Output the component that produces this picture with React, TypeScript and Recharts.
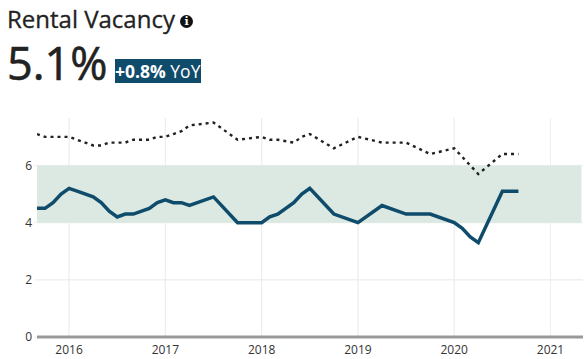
import {
  CartesianGrid,
  ComposedChart,
  Line,
  ReferenceArea,
  XAxis,
  YAxis,
} from "recharts";

// x values are months counted from January 2016
const months = [
  -4, -3, -2, -1, 0, 1, 3, 4, 5, 6, 7, 8, 10, 11, 12, 13, 14, 15, 18, 21, 24, 25, 26, 28, 29, 30,
  33, 36, 39, 42, 45, 48, 49, 50, 51, 54, 56,
];
const vacancy = [
  4.5, 4.5, 4.7, 5.0, 5.2, 5.1, 4.9, 4.7, 4.4, 4.2, 4.3, 4.3, 4.5, 4.7, 4.8, 4.7, 4.7, 4.6, 4.9,
  4.0, 4.0, 4.2, 4.3, 4.7, 5.0, 5.2, 4.3, 4.0, 4.6, 4.3, 4.3, 4.0, 3.8, 3.5, 3.3, 5.1, 5.1,
];
const national = [
  7.1, 7.0, 7.0, 7.0, 7.0, 6.9, 6.7, 6.7, 6.8, 6.8, 6.8, 6.9, 6.9, 7.0, 7.0, 7.1, 7.2, 7.4, 7.5,
  6.9, 7.0, 6.9, 6.9, 6.8, 7.0, 7.1, 6.6, 7.0, 6.8, 6.8, 6.4, 6.6, 6.3, 6.0, 5.7, 6.4, 6.4,
];
const yearTicks = [0, 12, 24, 36, 48, 60];
const valueTicks = [0, 2, 4, 6];
const gridValues = [2, 4, 6];

const chartData = months.map((month, i) => ({
  month,
  vacancy: vacancy[i],
  national: national[i],
}));

const font = "'Open Sans', sans-serif";

export default function App() {
  return (
    <div
      style={{
        position: "absolute",
        left: 0,
        top: 0,
        width: 584,
        height: 359,
        background: "#fff",
        fontFamily: font,
        overflow: "hidden",
      }}
    >
      <div style={{ position: "absolute", left: 7, top: 2, fontSize: 24, lineHeight: "33px", color: "#222", WebkitTextStroke: "0.3px #222" }}>
        Rental Vacancy
      </div>
      <div
        style={{
          position: "absolute",
          left: 180,
          top: 15,
          width: 13,
          height: 13,
          borderRadius: "50%",
          background: "#111",
          color: "#fff",
          fontSize: 11,
          fontWeight: 700,
          lineHeight: "13px",
          textAlign: "center",
          fontFamily: "'DejaVu Serif', serif",
        }}
      >
        i
      </div>
      <div
        style={{
          position: "absolute",
          left: 7,
          top: 32,
          fontSize: 45,
          fontWeight: 500,
          lineHeight: "62px",
          color: "#222",
          WebkitTextStroke: "0.6px #222",
        }}
      >
        5.1%
      </div>
      <div
        style={{
          position: "absolute",
          left: 115,
          top: 59,
          width: 86,
          height: 24,
          background: "#0f4c6b",
          color: "#fff",
          fontSize: 17.5,
          lineHeight: "24px",
          whiteSpace: "nowrap",
          overflow: "hidden",
        }}
      >
        <b>+0.8%</b> YoY
      </div>
      <div style={{ position: "absolute", left: 0, top: 110 }}>
        <ComposedChart
          width={584}
          height={249}
          data={chartData}
          margin={{ top: 8, right: 1, bottom: 0, left: 0 }}
        >
          <CartesianGrid stroke="#eeeeee" strokeWidth={1} horizontalValues={gridValues} verticalValues={yearTicks} />
          <XAxis
            dataKey="month"
            type="number"
            domain={[-4, 64.05]}
            ticks={yearTicks}
            tickFormatter={(m: number) => String(2016 + m / 12)}
            allowDataOverflow
            height={22}
            axisLine={{ stroke: "#999999", strokeWidth: 3 }}
            tickLine={false}
            tickMargin={2}
            tick={{ fontSize: 12, fill: "#333", fontFamily: font }}
          />
          <YAxis
            type="number"
            domain={[0, 7.66]}
            ticks={valueTicks}
            width={37}
            allowDataOverflow
            axisLine={false}
            tickLine={{ stroke: "#eeeeee" }}
            tickSize={3}
            tickMargin={2}
            tick={{ fontSize: 12, fill: "#333", fontFamily: font }}
          />
          <ReferenceArea y1={4} y2={6} x1={-4} x2={63.85} fill="#dbe9e2" fillOpacity={1} stroke="none" />
          <CartesianGrid
            stroke="#eeeeee"
            strokeOpacity={0.7}
            strokeWidth={1}
            horizontalValues={gridValues}
            verticalValues={yearTicks}
          />
          <Line
            dataKey="national"
            stroke="#222222"
            strokeWidth={2.4}
            strokeDasharray="3 4"
            dot={false}
            isAnimationActive={false}
          />
          <Line
            dataKey="vacancy"
            stroke="#0f4c6b"
            strokeWidth={3.5}
            dot={false}
            isAnimationActive={false}
          />
        </ComposedChart>
      </div>
    </div>
  );
}
